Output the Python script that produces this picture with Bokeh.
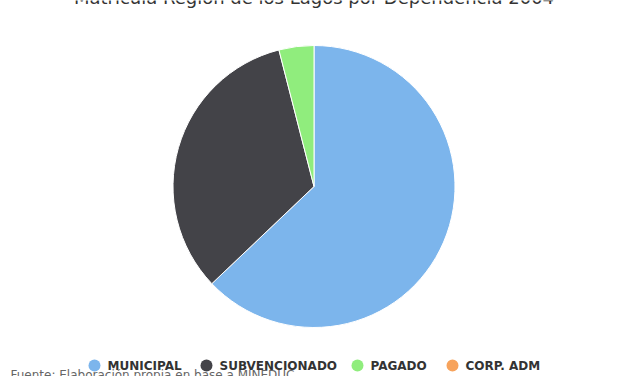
import math
from bokeh.plotting import figure
from bokeh.models import Range1d, ColumnDataSource
from bokeh.core.properties import value
from bokeh.embed import file_html
from bokeh.resources import INLINE

# Data (share of enrolment, %)
categories = ["MUNICIPAL", "SUBVENCIONADO", "PAGADO", "CORP. ADM"]
values = [62.9, 33.1, 4.0, 0.0]
colors = ["#7cb5ec", "#434348", "#90ed7d", "#f7a35c"]
title = "Matrícula Región de los Lagos por Dependencia 2004"
source_note = "Fuente: Elaboración propia en base a MINEDUC"

W, H = 627, 376
p = figure(width=W, height=H, output_backend="svg", toolbar_location=None,
           x_range=Range1d(0, W), y_range=Range1d(0, H),
           min_border=0, min_border_left=0, min_border_right=0,
           min_border_top=0, min_border_bottom=0)
p.axis.visible = False
p.grid.visible = False
p.outline_line_color = None
p.background_fill_color = "white"
p.border_fill_color = "white"

total = sum(values)
starts, ends, cats, cols = [], [], [], []
cum = 0.0
for c, v, col in zip(categories, values, colors):
    s = math.pi / 2 - cum / total * 2 * math.pi
    cum += v
    e = math.pi / 2 - cum / total * 2 * math.pi
    if v > 0:
        starts.append(s)
        ends.append(e)
        cats.append(c)
        cols.append(col)

src = ColumnDataSource(dict(cat=cats, color=cols, start=starts, end=ends))
cx, cy, r = 313.5, H - 186, 141
p.wedge(x=cx, y=cy, radius=r, start_angle="start", end_angle="end",
        direction="clock", fill_color="color", line_color="white",
        line_width=1, source=src)

# title (partially cut at the top as in the reference)
p.text(x=[313.5], y=[H + 3], text=[title], text_align="center",
       text_baseline="alphabetic", text_font=value("DejaVu Sans"),
       text_font_size="18px", text_color="#333333")

# source note (partly hidden behind the legend and the bottom edge)
p.text(x=[10], y=[H - 374], text=[source_note], text_align="left",
       text_baseline="alphabetic", text_font=value("DejaVu Sans"),
       text_font_size="12px", text_color="#666666")

# legend
leg_x = [94, 206, 357, 452]
leg_src = ColumnDataSource(dict(x=leg_x, tx=[x + 13 for x in leg_x],
                                y=[H - 365] * 4, cat=categories, color=colors))
p.scatter(x="x", y="y", size=12, fill_color="color", line_color=None,
          source=leg_src)
p.text(x="tx", y="y", text="cat", text_align="left", text_baseline="middle",
       text_font=value("DejaVu Sans"), text_font_size="12px",
       text_font_style="bold", text_color="#333333", source=leg_src)

open("out.html", "w").write(file_html(p, INLINE))
